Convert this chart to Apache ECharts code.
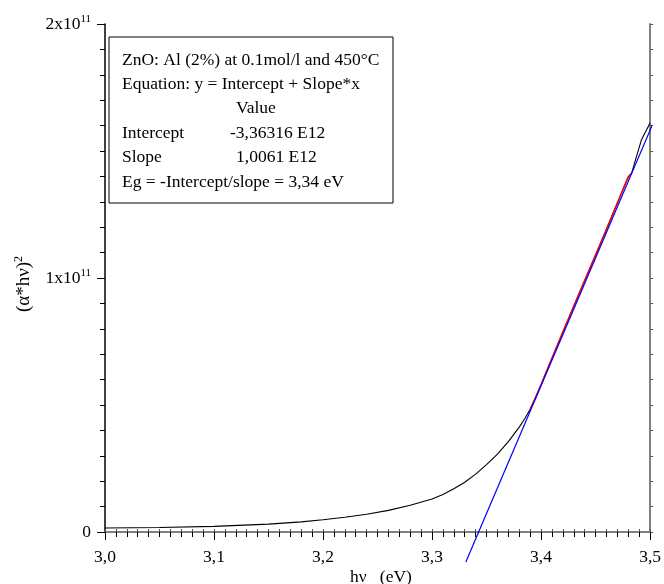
<!DOCTYPE html>
<html>
<head>
<meta charset="utf-8">
<title>ZnO:Al band gap</title>
<script src="https://cdn.jsdelivr.net/npm/echarts@6/dist/echarts.min.js"></script>
<style>
  html, body { margin: 0; padding: 0; background: #fff; }
  #chart { width: 664px; height: 584px; }
</style>
</head>
<body>
<div id="chart"></div>
<script>
// Photon energy (eV) and (alpha*h*nu)^2 of the measured absorption curve
const hv = [3.00, 3.05, 3.10, 3.15, 3.18, 3.20, 3.22, 3.24, 3.26, 3.28, 3.30, 3.31,
            3.32, 3.33, 3.34, 3.35, 3.36, 3.37, 3.38, 3.385, 3.39, 3.395, 3.40, 3.41,
            3.42, 3.43, 3.44, 3.45, 3.46, 3.47, 3.48, 3.483, 3.492, 3.50];
const alphaHv2 = [0.16e10, 0.18e10, 0.22e10, 0.31e10, 0.40e10, 0.48e10, 0.58e10, 0.70e10,
                  0.85e10, 1.05e10, 1.30e10, 1.48e10, 1.70e10, 1.96e10, 2.28e10, 2.65e10,
                  3.07e10, 3.56e10, 4.13e10, 4.46e10, 4.83e10, 5.30e10, 5.80e10, 6.84e10,
                  7.87e10, 8.89e10, 9.90e10, 10.90e10, 11.92e10, 12.95e10, 13.98e10, 14.12e10,
                  15.43e10, 16.10e10];

// Range of points used for the linear fit
const fitFrom = 3.39;
const fitTo = 3.483;

// Linear fit result
const intercept = -3.36316e12;
const slope = 1.0061e12;
const fitLineX = [3.331, 3.51];

// Tick labels
const xTickLabels = ['3,0', '3,1', '3,2', '3,3', '3,4', '3,5'];
const yTickMantissa = ['0', '1x10', '2x10'];
const yTickExponent = ['', '11', '11'];

// Text of the fit summary box
const boxTitle = 'ZnO: Al (2%) at 0.1mol/l and 450°C';
const boxEquation = 'Equation: y = Intercept + Slope*x';
const boxHeader = 'Value';
const boxRows = [['Intercept', '-3,36316 E12'], ['Slope', '1,0061 E12']];
const boxResult = 'Eg = -Intercept/slope = 3,34 eV';

const FONT = "'Liberation Serif', 'Times New Roman', serif";
const FS = 17.5;

const curve = hv.map((x, i) => [x, alphaHv2[i]]);
const fitPart = curve.filter(p => p[0] >= fitFrom - 1e-9 && p[0] <= fitTo + 1e-9);
const fitLine = fitLineX.map(x => [x, intercept + slope * x]);

const xMin = 3.0, xMax = 3.5, xStep = 0.1;
const yMin = 0, yMax = 2e11, yStep = 1e11;

function xLabel(v) {
  const i = Math.round((v - xMin) / xStep);
  return xTickLabels[i] !== undefined ? xTickLabels[i] : '';
}
function yLabel(v) {
  const i = Math.round((v - yMin) / yStep);
  if (yTickMantissa[i] === undefined) return '';
  return yTickExponent[i] ? '{m|' + yTickMantissa[i] + '}{e|' + yTickExponent[i] + '}' : '{m|' + yTickMantissa[i] + '}';
}

const chart = echarts.init(document.getElementById('chart'), null, { renderer: 'canvas' });

const plotLeft = 105, plotRight = 657, plotTop = 24, plotBottom = 532;
const boxX = 109, boxY = 37, lineGap = 24.4, textX = 122, colX = 230;

const boxTexts = [];
function addText(text, x, y) {
  boxTexts.push({
    type: 'text', x: x, y: y, z: 20,
    style: { text: text, fill: '#000', font: FS + 'px ' + FONT, textVerticalAlign: 'middle', textAlign: 'left' }
  });
}
addText(boxTitle, textX, boxY + 23);
addText(boxEquation, textX, boxY + 23 + lineGap);
addText(boxHeader, 236, boxY + 23 + lineGap * 2);
boxRows.forEach((r, i) => {
  addText(r[0], textX, boxY + 23 + lineGap * (3 + i));
  addText(r[1], i === 0 ? colX : 236, boxY + 23 + lineGap * (3 + i));
});
addText(boxResult, textX, boxY + 23 + lineGap * 5);

const option = {
  animation: false,
  backgroundColor: '#fff',
  grid: { left: plotLeft, top: plotTop, width: plotRight - plotLeft, height: plotBottom - plotTop, containLabel: false },
  xAxis: [
    {
      type: 'value', position: 'bottom', min: xMin, max: xMax, interval: xStep,
      axisLine: { lineStyle: { color: '#000', width: 1.5 } },
      axisTick: { inside: false, length: 8, lineStyle: { color: '#000', width: 1 } },
      minorTick: { show: true, splitNumber: 10, length: 5, lineStyle: { color: '#000', width: 1 } },
      splitLine: { show: false },
      axisLabel: { formatter: xLabel, color: '#000', fontFamily: FONT, fontSize: FS, margin: 16 }
    },
    {
      type: 'value', position: 'top', min: xMin, max: xMax, interval: xStep,
      axisLine: { lineStyle: { color: '#808080', width: 2 } },
      axisTick: { length: 3, lineStyle: { color: '#555', width: 1 } },
      minorTick: { show: true, splitNumber: 10, length: 3, lineStyle: { color: '#555', width: 1 } },
      splitLine: { show: false },
      axisLabel: { show: false }
    }
  ],
  yAxis: [
    {
      type: 'value', position: 'left', min: yMin, max: yMax, interval: yStep,
      axisLine: { lineStyle: { color: '#000', width: 1.5 } },
      axisTick: { length: 8, lineStyle: { color: '#000', width: 1 } },
      minorTick: { show: true, splitNumber: 10, length: 5, lineStyle: { color: '#000', width: 1 } },
      splitLine: { show: false },
      axisLabel: {
        formatter: yLabel, margin: 14, color: '#000',
        rich: {
          m: { fontFamily: FONT, fontSize: FS, color: '#000' },
          e: { fontFamily: FONT, fontSize: 11, color: '#000', padding: [0, 0, 9, 0] }
        }
      }
    },
    {
      type: 'value', position: 'right', min: yMin, max: yMax, interval: yStep,
      axisLine: { lineStyle: { color: '#808080', width: 2 } },
      axisTick: { length: 3, lineStyle: { color: '#555', width: 1 } },
      minorTick: { show: true, splitNumber: 10, length: 3, lineStyle: { color: '#555', width: 1 } },
      splitLine: { show: false },
      axisLabel: { show: false }
    }
  ],
  series: [
    {
      name: 'data', type: 'line', xAxisIndex: 0, yAxisIndex: 0, data: curve,
      showSymbol: false, smooth: false,
      lineStyle: { color: '#000', width: 1.1 }, z: 2
    },
    {
      name: 'fit range', type: 'line', xAxisIndex: 0, yAxisIndex: 0, data: fitPart,
      showSymbol: false, lineStyle: { color: '#ff0000', width: 1.5 }, z: 3
    },
    {
      name: 'linear fit', type: 'line', xAxisIndex: 0, yAxisIndex: 0, data: fitLine,
      showSymbol: false, clip: false, lineStyle: { color: '#0000ff', width: 1.2 }, z: 4
    }
  ],
  graphic: [
    {
      type: 'rect', z: 10,
      shape: { x: boxX, y: boxY, width: 284, height: 166 },
      style: { fill: '#fff', stroke: '#000', lineWidth: 1 }
    },
    ...boxTexts,
    {
      type: 'text', x: 381, y: 577, z: 20,
      style: {
        text: 'hν   (eV)', font: FS + 'px ' + FONT, fill: '#000',
        textAlign: 'center', textVerticalAlign: 'middle'
      }
    },
    {
      type: 'text', x: 24, y: 284, rotation: Math.PI / 2, z: 20,
      style: {
        text: '{m|(α*hν)}{e|2}', textAlign: 'center', textVerticalAlign: 'middle',
        rich: {
          m: { fontFamily: FONT, fontSize: 19, fill: '#000' },
          e: { fontFamily: FONT, fontSize: 12, fill: '#000', padding: [0, 0, 10, 0] }
        }
      }
    }
  ]
};

chart.setOption(option);
</script>
</body>
</html>
